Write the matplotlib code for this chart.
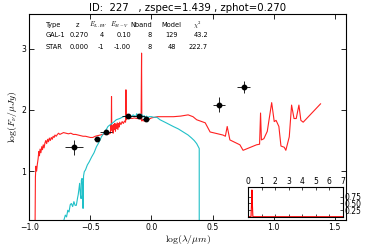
import numpy as np
import matplotlib
matplotlib.use("Agg")
import matplotlib.pyplot as plt

plt.rcParams['mathtext.fontset'] = 'cm'

# ---------------- data ----------------
title = "ID:  227   , zspec=1.439 , zphot=0.270"

gal_x = [-0.955, -0.95, -0.946, -0.94, -0.935, -0.928, -0.922, -0.917, -0.912, -0.905, -0.898, -0.892,
         -0.886, -0.879, -0.872, -0.865, -0.858, -0.85, -0.843, -0.836, -0.828, -0.82, -0.812, -0.805,
         -0.797, -0.79, -0.78, -0.77, -0.76, -0.75, -0.74, -0.72, -0.70, -0.68, -0.66, -0.64, -0.62,
         -0.60, -0.58, -0.56, -0.54, -0.52, -0.50, -0.48, -0.46, -0.44, -0.42, -0.40, -0.38, -0.36,
         -0.345, -0.336, -0.333, -0.329, -0.327, -0.325, -0.322, -0.318, -0.314, -0.31, -0.305, -0.30,
         -0.295, -0.29, -0.285, -0.28, -0.275, -0.27, -0.265, -0.26, -0.25, -0.24, -0.23, -0.22,
         -0.212, -0.209, -0.206, -0.2, -0.18, -0.16, -0.14, -0.12, -0.10, -0.085, -0.081, -0.079,
         -0.075, -0.06, -0.04, -0.02, 0.0, 0.05, 0.10, 0.18, 0.24, 0.30, 0.34, 0.37, 0.44, 0.48,
         0.585, 0.605, 0.62, 0.642, 0.724, 0.75, 0.86, 0.885, 0.893, 0.90, 0.92, 0.948, 0.984,
         1.005, 1.02, 1.043, 1.06, 1.087, 1.10, 1.128, 1.147, 1.167, 1.185, 1.207, 1.223, 1.242,
         1.384]
gal_y = [-0.5, 0.90, 1.08, 1.00, 1.10, 1.20, 1.32, 1.25, 1.36, 1.30, 1.40, 1.35,
         1.43, 1.38, 1.46, 1.50, 1.45, 1.52, 1.48, 1.54, 1.50, 1.55, 1.52, 1.57,
         1.55, 1.59, 1.57, 1.60, 1.62, 1.60, 1.61, 1.63, 1.62, 1.61, 1.62, 1.60, 1.60,
         1.59, 1.58, 1.57, 1.57, 1.56, 1.55, 1.55, 1.57, 1.58, 1.59, 1.60, 1.61, 1.61,
         1.61, 1.62, 1.76, 1.70, 2.22, 1.72, 1.66, 1.74, 1.62, 1.76, 1.68, 1.78,
         1.65, 1.77, 1.70, 1.79, 1.68, 1.78, 1.72, 1.80, 1.76, 1.81, 1.78, 1.82,
         1.80, 2.33, 1.84, 1.86, 1.87, 1.86, 1.87, 1.86, 1.86, 1.85, 2.93, 1.82,
         1.83, 1.82, 1.83, 1.85, 1.87, 1.89, 1.89, 1.89, 1.90, 1.92, 1.89, 1.84, 1.79, 1.64,
         1.59, 1.57, 1.73, 1.51, 1.43, 1.34, 1.43, 1.44, 1.95, 1.51, 1.53, 1.65, 2.12,
         1.81, 1.83, 1.73, 1.41, 1.39, 1.34, 1.56, 2.08, 1.86, 1.86, 2.08, 1.83, 1.80,
         2.10]

star_x = [-0.724, -0.705, -0.695, -0.685, -0.675, -0.665, -0.656, -0.645, -0.635, -0.625, -0.615,
          -0.605, -0.60, -0.594, -0.588, -0.582, -0.576, -0.574, -0.568, -0.562, -0.560, -0.556,
          -0.55, -0.54, -0.525, -0.51, -0.49, -0.47, -0.45, -0.43, -0.41, -0.39, -0.37, -0.356,
          -0.33, -0.31, -0.288, -0.26, -0.23, -0.21, -0.19, -0.17, -0.15, -0.13, -0.12, -0.11,
          -0.10, -0.09, -0.08, -0.07, -0.06, -0.05, -0.04, -0.03, -0.02, 0.0, 0.02, 0.045, 0.07,
          0.12, 0.178, 0.22, 0.26, 0.30, 0.329, 0.35, 0.37, 0.391, 0.391]
star_y = [0.15, 0.28, 0.25, 0.36, 0.33, 0.45, 0.47, 0.42, 0.50, 0.44, 0.44,
          0.56, 0.61, 0.70, 0.80, 0.62, 0.55, 0.85, 0.88, 0.70, 0.39, 0.92,
          0.99, 1.02, 1.10, 1.15, 1.23, 1.30, 1.40, 1.47, 1.56, 1.62, 1.68, 1.73,
          1.77, 1.80, 1.84, 1.86, 1.89, 1.90, 1.91, 1.88, 1.92, 1.89, 1.94, 1.87,
          1.92, 1.86, 1.93, 1.88, 1.91, 1.85, 1.90, 1.87, 1.89, 1.89, 1.88, 1.88, 1.84,
          1.79, 1.73, 1.69, 1.64, 1.59, 1.54, 1.50, 1.45, 1.37, -0.5]

obs_x = [-0.634, -0.448, -0.375, -0.192, -0.102, -0.047, 0.550, 0.754]
obs_y = [1.39, 1.525, 1.64, 1.907, 1.907, 1.86, 2.087, 2.37]
obs_xerr = [0.072, 0.02, 0.048, 0.05, 0.05, 0.03, 0.05, 0.05]
obs_yerr = [0.12, 0.02, 0.03, 0.02, 0.02, 0.02, 0.12, 0.10]

pdf_z = [0.0, 0.20, 0.24, 0.27, 0.30, 0.34, 7.0]
pdf_p = [0.0, 0.0, 0.5, 1.0, 0.5, 0.0, 0.0]

table_header = ["Type", "z", r"$E_{LAW}$", r"$E_{B-V}$", "Nband", "Model", r"$\chi^2$"]
table_rows = [["GAL-1", "0.270", "4", "0.10", "8", "129", "43.2"],
              ["STAR", "0.000", "-1", "-1.00", "8", "48", "222.7"]]

# ---------------- figure ----------------
W, H = 368, 245
fig = plt.figure(figsize=(W / 100, H / 100), dpi=100)
ax = fig.add_axes([29.3 / W, 1 - 220 / H, (345.7 - 29.3) / W, (220 - 14) / H])

ax.plot(gal_x, gal_y, color='#ff2020', lw=0.8)
ax.plot(star_x, star_y, color='#20c0c8', lw=0.8)
ax.errorbar(obs_x, obs_y, xerr=obs_xerr, yerr=obs_yerr, fmt='o', color='black',
            ms=3.2, elinewidth=0.6, capsize=0, zorder=5)

ax.set_xlim(-1.0, 1.59)
ax.set_ylim(0.2, 3.57)
ax.set_xticks([-1.0, -0.5, 0.0, 0.5, 1.0, 1.5])
ax.set_xticklabels(["\u22121.0", "\u22120.5", "0.0", "0.5", "1.0", "1.5"])
ax.set_yticks([1, 2, 3])
ax.tick_params(direction='in', top=True, right=True, length=3.5, width=0.6,
               labelsize=5.6, pad=2)
for s in ax.spines.values():
    s.set_linewidth(0.8)
ax.set_xlabel(r"$\log(\lambda/\mu m)$", fontsize=7, labelpad=1)
ax.set_ylabel(r"$\log(F_{\nu}/\mu Jy)$", fontsize=7, labelpad=2)
ax.set_title(title, fontsize=7.3, pad=2.5)

# table text
hdr_pos = [(45.7, 'left'), (78, 'center'), (98, 'center'), (120, 'center'),
           (141, 'center'), (171.5, 'center'), (197, 'center')]
row_pos = [(45.7, 'left'), (79.5, 'center'), (104, 'right'), (131, 'right'),
           (152, 'right'), (171.8, 'center'), (208, 'right')]
for (px, ha), txt in zip(hdr_pos, table_header):
    fig.text(px / W, 1 - 25 / H, txt, ha=ha, va='center', fontsize=4.8)
for ry, row in zip([35, 46.5], table_rows):
    for (px, ha), txt in zip(row_pos, row):
        fig.text(px / W, 1 - ry / H, txt, ha=ha, va='center', fontsize=4.8)

# inset PDF
axi = fig.add_axes([248.3 / W, 1 - 216.7 / H, 94.4 / W, 29.4 / H])
axi.plot(pdf_z, pdf_p, color='red', lw=0.8)
axi.set_xlim(0, 7)
axi.set_ylim(0, 1.1)
axi.set_xticks(range(8))
axi.set_yticks([0.25, 0.5, 0.75])
axi.set_yticklabels(["0.25", "0.50", "0.75"])
axi.xaxis.tick_top()
axi.yaxis.tick_right()
axi.tick_params(direction='in', bottom=True, left=True, length=2.5, width=0.5,
                labelsize=5.5, pad=1)
for s in axi.spines.values():
    s.set_linewidth(0.8)

fig.savefig("out.png", dpi=100)
